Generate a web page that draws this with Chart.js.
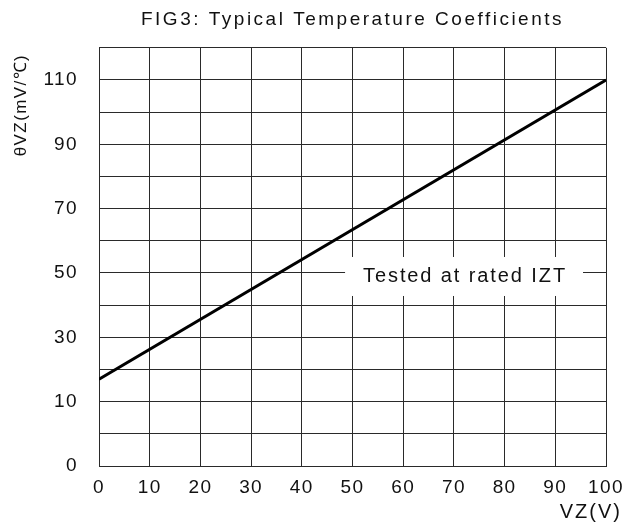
<!DOCTYPE html>
<html>
<head>
<meta charset="utf-8">
<script src="https://cdn.jsdelivr.net/npm/chart.js@4.4.1/dist/chart.umd.min.js"></script>
<style>
html,body{margin:0;padding:0;background:#fff;}
#wrap{width:622px;height:525px;position:relative;}
</style>
</head>
<body>
<div id="wrap"><canvas id="c" width="622" height="525"></canvas></div>
<script>
// ---- data ----
const vzValues = [0, 100];            // VZ (V)
const thetaValues = [17, 110];        // θVZ (mV/℃)
const yTickValues = [-10, 10, 30, 50, 70, 90, 110];
const yTickLabels = ["0", "10", "30", "50", "70", "90", "110"];
const xTickValues = [0, 10, 20, 30, 40, 50, 60, 70, 80, 90, 100];
const titleText = "FIG3: Typical Temperature Coefficients";
const yTitleText = "θVZ(mV/℃) ";
const xTitleText = "VZ(V)";
const noteText = "Tested at rated IZT";
const noteAt = {x: 72, y: 50};

const FONT = "'Liberation Sans', Arial, sans-serif";
const GRID = '#2a2a2a';

const spacingPlugin = {
  id: 'spacing',
  beforeUpdate(chart){ chart.ctx.letterSpacing = '1.4px'; },
  afterUpdate(chart){
    const tb = chart.titleBlock;
    if (tb && !tb._wideText) {
      const orig = tb.draw.bind(tb);
      tb.draw = function(){
        const c = chart.ctx, old = c.letterSpacing;
        c.letterSpacing = '2.5px';
        orig();
        c.letterSpacing = old;
      };
      tb._wideText = true;
    }
  },
  beforeDraw(chart){ chart.ctx.letterSpacing = '1.4px'; }
};

const extrasPlugin = {
  id: 'extras',
  afterDatasetsDraw(chart){
    const ctx = chart.ctx, xs = chart.scales.x, ys = chart.scales.y;
    ctx.save();
    // note box
    ctx.font = '20px ' + FONT;
    ctx.letterSpacing = '1.9px';
    const cx = xs.getPixelForValue(noteAt.x), cy = ys.getPixelForValue(noteAt.y);
    const w = ctx.measureText(noteText).width;
    ctx.fillStyle = '#fff';
    ctx.fillRect(cx - w/2 - 17, cy - 16, w + 34, 39);
    ctx.fillStyle = '#111';
    ctx.textAlign = 'center';
    ctx.textBaseline = 'middle';
    ctx.fillText(noteText, cx + 1, cy + 3);
    // x axis title
    ctx.font = '20px ' + FONT;
    ctx.letterSpacing = '2px';
    ctx.textAlign = 'right';
    ctx.fillText(xTitleText, xs.right + 16, xs.bottom - 13);
    ctx.restore();
  }
};

new Chart(document.getElementById('c'), {
  type: 'line',
  data: {
    datasets: [{
      data: vzValues.map((v, i) => ({x: v, y: thetaValues[i]})),
      borderColor: '#000',
      borderWidth: 3,
      pointRadius: 0,
      fill: false,
      tension: 0
    }]
  },
  options: {
    responsive: false,
    animation: false,
    devicePixelRatio: 1,
    layout: {padding: {left: 0, right: 16, top: 0, bottom: 0}},
    plugins: {
      legend: {display: false},
      tooltip: {enabled: false},
      title: {
        display: true,
        fullSize: false,
        text: titleText,
        color: '#111',
        font: {family: FONT, size: 19, weight: 'normal'},
        padding: {top: 8, bottom: 17}
      }
    },
    scales: {
      x: {
        type: 'linear',
        min: 0, max: 100,
        afterBuildTicks(scale){ scale.ticks = xTickValues.map(v => ({value: v})); },
        ticks: {
          color: '#111',
          font: {family: FONT, size: 19},
          padding: 10,
          maxRotation: 0,
          autoSkip: false
        },
        grid: {color: GRID, lineWidth: 1, drawTicks: false},
        border: {color: GRID, width: 1},
        afterFit(scale){ scale.height = 59; scale.paddingLeft = 0; scale.paddingRight = 0; }
      },
      y: {
        type: 'linear',
        min: -10, max: 120,
        ticks: {
          stepSize: 10,
          autoSkip: false,
          color: '#111',
          font: {family: FONT, size: 19},
          padding: 21,
          callback(v){ const i = yTickValues.indexOf(v); return i >= 0 ? yTickLabels[i] : ''; }
        },
        grid: {color: GRID, lineWidth: 1, drawTicks: false},
        border: {color: GRID, width: 1},
        title: {
          display: true,
          text: yTitleText,
          align: 'end',
          color: '#111',
          font: {family: FONT, size: 17},
          padding: {top: 11, bottom: 0}
        },
        afterFit(scale){ scale.width = 99; scale.paddingTop = 0; scale.paddingBottom = 0; }
      }
    }
  },
  plugins: [spacingPlugin, extrasPlugin]
});
</script>
</body>
</html>
